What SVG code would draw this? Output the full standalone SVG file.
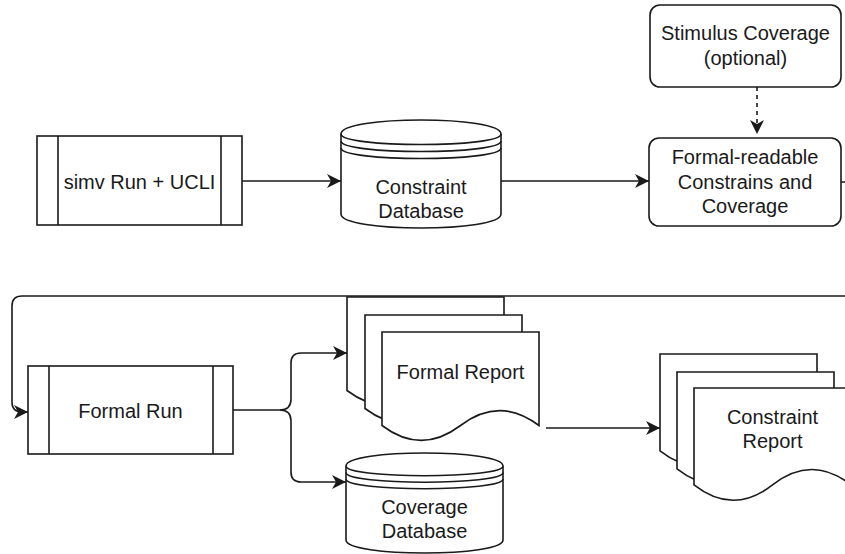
<svg xmlns="http://www.w3.org/2000/svg" width="845" height="554" viewBox="0 0 845 554">
<style>
.s{fill:#fff;stroke:#1a1a1a;stroke-width:1.6}
.l{fill:none;stroke:#1a1a1a;stroke-width:1.6}
.c{fill:none;stroke:#1a1a1a;stroke-width:1.6}
.t{font-family:"Liberation Sans",Arial,sans-serif;font-size:20px;fill:#1a1a1a;text-anchor:middle}
</style>
<defs>
<marker id="ah" markerUnits="userSpaceOnUse" markerWidth="16" markerHeight="16" refX="14" refY="8" orient="auto">
<path d="M0,1 L14,8 L0,15 L4,8 Z" fill="#1a1a1a"/>
</marker>
</defs>
<g id="simv">
<rect class="s" x="37" y="136" width="205" height="89"/>
<line class="l" x1="58" y1="136" x2="58" y2="225"/>
<line class="l" x1="221" y1="136" x2="221" y2="225"/>
<text class="t" x="139.5" y="188.5">simv Run + UCLI</text>
</g>
<g id="constraint-db">
<path class="s" d="M341,134 C341,115.33 501,115.33 501,134 L501,214 C501,232.67 341,232.67 341,214 Z"/>
<path class="l" d="M341,134 C341,148 501,148 501,134 M341,141 C341,155 501,155 501,141 M341,148 C341,162 501,162 501,148"/>
<text class="t" x="421" y="194">Constraint</text>
<text class="t" x="421" y="218">Database</text>
</g>
<g id="stimulus">
<rect class="s" x="650" y="5" width="191" height="82" rx="10"/>
<text class="t" x="745.5" y="40">Stimulus Coverage</text>
<text class="t" x="745.5" y="65">(optional)</text>
</g>
<g id="formal-readable">
<rect class="s" x="649" y="138" width="192" height="88" rx="10"/>
<text class="t" x="745" y="164">Formal-readable</text>
<text class="t" x="745" y="189">Constrains and</text>
<text class="t" x="745" y="213">Coverage</text>
</g>
<g id="formal-run">
<rect class="s" x="28" y="366" width="205" height="88"/>
<line class="l" x1="49" y1="366" x2="49" y2="454"/>
<line class="l" x1="213" y1="366" x2="213" y2="454"/>
<text class="t" x="130.5" y="417.5">Formal Run</text>
</g>
<g id="formal-report">
<path class="s" d="M347,297 H504 V390.5 Q464.75,360.8 425.5,390.5 Q386.25,420.2 347,390.5 Z"/>
<path class="s" d="M365,315 H522 V408.5 Q482.75,378.8 443.5,408.5 Q404.25,438.2 365,408.5 Z"/>
<path class="s" d="M382,332 H539 V425.5 Q499.75,395.8 460.5,425.5 Q421.25,455.2 382,425.5 Z"/>
<text class="t" x="460.5" y="379">Formal Report</text>
</g>
<g id="coverage-db">
<path class="s" d="M346,466 C346,448.67 503,448.67 503,466 L503,540 C503,557.33 346,557.33 346,540 Z"/>
<path class="l" d="M346,466 C346,479 503,479 503,466 M346,472.5 C346,485.5 503,485.5 503,472.5 M346,479 C346,492 503,492 503,479"/>
<text class="t" x="424.5" y="514">Coverage</text>
<text class="t" x="424.5" y="538">Database</text>
</g>
<g id="constraint-report">
<path class="s" d="M660,354 H817 V450.9 Q777.75,420.12 738.5,450.9 Q699.25,481.68 660,450.9 Z"/>
<path class="s" d="M677,372 H834 V468.9 Q794.75,438.12 755.5,468.9 Q716.25,499.68 677,468.9 Z"/>
<path class="s" d="M694,388 H851 V484.9 Q811.75,454.12 772.5,484.9 Q733.25,515.68 694,484.9 Z"/>
<text class="t" x="772.5" y="424">Constraint</text>
<text class="t" x="772.5" y="448">Report</text>
</g>
<g id="connectors">
<path class="c" d="M242,181 H341" marker-end="url(#ah)"/>
<path class="c" d="M501,181 H649" marker-end="url(#ah)"/>
<path class="c" d="M757,87 V134" stroke-dasharray="4 4" marker-end="url(#ah)"/>
<path class="c" d="M841,182 H850 Q855,182 855,187 V291 Q855,296 850,296 H22 Q12,296 12,306 V402 Q12,412 22,412 H28" marker-end="url(#ah)"/>
<path class="c" d="M233,410 H280 Q291,410 291,399 V363 Q291,353 301,353 H347" marker-end="url(#ah)"/>
<path class="c" d="M280,410 Q291,410 291,421 V472 Q291,482 301,482 H346" marker-end="url(#ah)"/>
<path class="c" d="M546,428 H660" marker-end="url(#ah)"/>
</g>
</svg>
